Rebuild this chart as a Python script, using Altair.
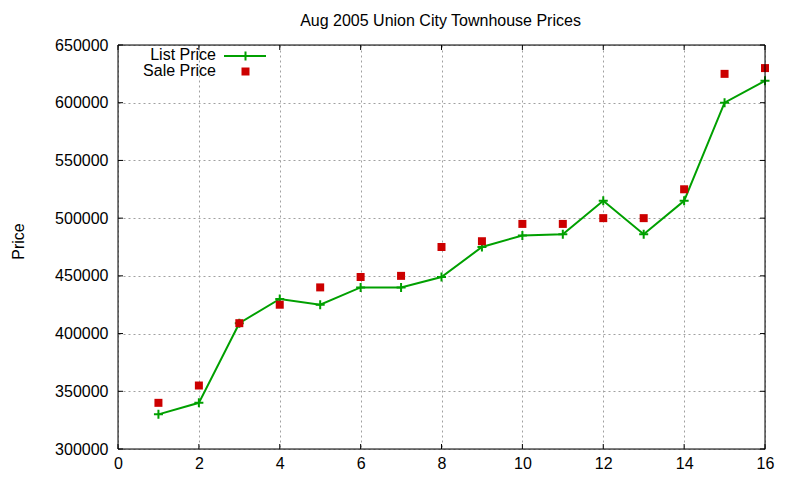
import altair as alt
import pandas as pd

# ---- data ----
months = list(range(1, 17))
list_price = [330000, 340000, 409000, 430000, 425000, 440000, 440000, 449000,
              475000, 485000, 486000, 515000, 486000, 515000, 600000, 619000]
sale_price = [340000, 355000, 409000, 425000, 440000, 449000, 450000, 475000,
              480000, 495000, 495000, 500000, 500000, 525000, 625000, 630000]
x_ticks = [0, 2, 4, 6, 8, 10, 12, 14, 16]
y_ticks = [300000, 350000, 400000, 450000, 500000, 550000, 600000, 650000]
series_names = ["List Price", "Sale Price"]
chart_title = ["Aug 2005 Union City Townhouse Prices"]

FONT = "Liberation Sans"
GREEN = "#00a000"
RED = "#cc0000"
W, H = 647, 404

df = pd.DataFrame({"x": months, "list": list_price, "sale": sale_price})
xt = pd.DataFrame({"x": x_ticks})
yt = pd.DataFrame({"y": y_ticks})

xscale = alt.Scale(domain=[0, 16], nice=False, zero=False)
yscale = alt.Scale(domain=[300000, 650000], nice=False, zero=False)

xaxis = alt.Axis(values=x_ticks, grid=True, gridColor="#a0a0a0", gridDash=[2, 3],
                 gridWidth=1, ticks=False, domain=False, labelPadding=6,
                 labelFont=FONT, labelFontSize=16, labelColor="black",
                 labelFlush=False, title=None, format="d")
yaxis = alt.Axis(values=y_ticks, grid=True, gridColor="#a0a0a0", gridDash=[2, 3],
                 gridWidth=1, ticks=False, domain=False, labelPadding=10,
                 labelFont=FONT, labelFontSize=16, labelColor="black",
                 labelFlush=False, format="d",
                 title="Price", titleFont=FONT, titleFontSize=16,
                 titleFontWeight="normal", titleColor="black",
                 titleAngle=270, titleBaseline="alphabetic", titleAlign="center",
                 titleX=-95, titleY=196)

base = alt.Chart(df)

line = base.mark_line(color=GREEN, strokeWidth=2, clip=False).encode(
    x=alt.X("x:Q", scale=xscale, axis=xaxis),
    y=alt.Y("list:Q", scale=yscale, axis=yaxis),
)
plus = base.mark_point(shape="M-1,0L1,0M0,-1L0,1", filled=False, color=GREEN,
                       strokeWidth=2, size=81, opacity=1).encode(
    x=alt.X("x:Q", scale=xscale), y=alt.Y("list:Q", scale=yscale))
squares = base.mark_square(color=RED, size=64, opacity=1).encode(
    x=alt.X("x:Q", scale=xscale), y=alt.Y("sale:Q", scale=yscale))

# inward tick marks
ytick_l = alt.Chart(yt).mark_rule(color="black", strokeWidth=1).encode(
    y=alt.Y("y:Q", scale=yscale), x=alt.value(0), x2=alt.value(5))
ytick_r = alt.Chart(yt).mark_rule(color="black", strokeWidth=1).encode(
    y=alt.Y("y:Q", scale=yscale), x=alt.value(W), x2=alt.value(W - 5))
xtick_b = alt.Chart(xt).mark_rule(color="black", strokeWidth=1).encode(
    x=alt.X("x:Q", scale=xscale), y=alt.value(H), y2=alt.value(H - 5))
xtick_t = alt.Chart(xt).mark_rule(color="black", strokeWidth=1).encode(
    x=alt.X("x:Q", scale=xscale), y=alt.value(0), y2=alt.value(5))

# border
bd = pd.DataFrame({"k": [0]})
b_top = alt.Chart(bd).mark_rule(color="black", strokeWidth=1).encode(
    x=alt.value(0), x2=alt.value(W), y=alt.value(0))
b_bot = alt.Chart(bd).mark_rule(color="black", strokeWidth=1).encode(
    x=alt.value(0), x2=alt.value(W), y=alt.value(H))
b_left = alt.Chart(bd).mark_rule(color="black", strokeWidth=1).encode(
    x=alt.value(0), y=alt.value(0), y2=alt.value(H))
b_right = alt.Chart(bd).mark_rule(color="black", strokeWidth=1).encode(
    x=alt.value(W), y=alt.value(0), y2=alt.value(H))

# title as text
title_df = pd.DataFrame({"t": chart_title})
title = alt.Chart(title_df).mark_text(align="center", baseline="alphabetic", font=FONT,
                                      fontSize=16, color="black").encode(
    text="t:N", x=alt.value(W / 2 - 1), y=alt.value(-19))

# legend (manual, gnuplot style: text left of sample)
leg1 = pd.DataFrame({"name": [series_names[0]]})
leg2 = pd.DataFrame({"name": [series_names[1]]})
lt1 = alt.Chart(leg1).mark_text(align="right", baseline="alphabetic", font=FONT,
                                fontSize=16, color="black").encode(
    text="name:N", x=alt.value(98), y=alt.value(15))
lt2 = alt.Chart(leg2).mark_text(align="right", baseline="alphabetic", font=FONT,
                                fontSize=16, color="black").encode(
    text="name:N", x=alt.value(98), y=alt.value(31))
ll = alt.Chart(leg1).mark_rule(color=GREEN, strokeWidth=2).encode(
    x=alt.value(106), x2=alt.value(148), y=alt.value(11))
lp = alt.Chart(leg1).mark_point(shape="M-1,0L1,0M0,-1L0,1", filled=False, color=GREEN,
                                strokeWidth=2, size=81, opacity=1).encode(
    x=alt.value(127.5), y=alt.value(11))
ls = alt.Chart(leg2).mark_square(color=RED, size=64, opacity=1).encode(
    x=alt.value(127.5), y=alt.value(26.5))

chart = alt.layer(
    line, plus, squares,
    ytick_l, ytick_r, xtick_b, xtick_t,
    b_top, b_bot, b_left, b_right,
    title,
    lt1, lt2, ll, lp, ls,
).properties(
    width=W, height=H,
    autosize=alt.AutoSizeParams(type="none"),
    padding={"left": 110, "top": 37, "right": 20, "bottom": 22},
).configure_view(stroke=None).configure(background="white")

chart.save("out.html", embed_options={"renderer": "svg", "actions": False})
